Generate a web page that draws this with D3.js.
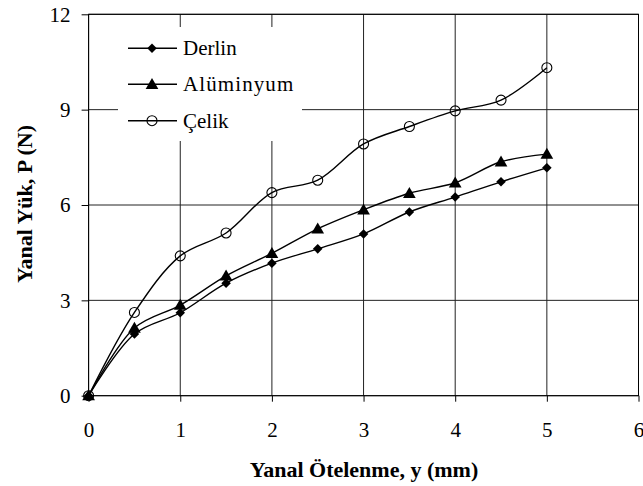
<!DOCTYPE html>
<html>
<head>
<meta charset="utf-8">
<script src="https://cdn.jsdelivr.net/npm/d3@7"></script>
</head>
<body style="margin:0;background:#fff">
<svg width="643" height="486" font-family="Liberation Serif"></svg>
<script>
const xValues = [0, 0.5, 1, 1.5, 2, 2.5, 3, 3.5, 4, 4.5, 5];
const derlin = [0, 1.94, 2.61, 3.54, 4.17, 4.62, 5.09, 5.78, 6.25, 6.73, 7.17];
const aluminyum = [0, 2.13, 2.85, 3.77, 4.48, 5.25, 5.85, 6.37, 6.70, 7.36, 7.60];
const celik = [0, 2.62, 4.40, 5.12, 6.39, 6.78, 7.92, 8.47, 8.96, 9.30, 10.32];
const seriesNames = ['Derlin', 'Alüminyum', 'Çelik'];
const xTicks = [0, 1, 2, 3, 4, 5, 6];
const yTicks = [0, 3, 6, 9, 12];

const FONT = 'Liberation Serif';
const svg = d3.select('svg');
const x = d3.scaleLinear().domain([0, 6]).range([88.6, 638.5]);
const y = d3.scaleLinear().domain([0, 12]).range([395.7, 14.3]);

// grid lines
svg.append('g').selectAll('line').data(yTicks).join('line')
  .attr('x1', x(0)).attr('x2', x(6))
  .attr('y1', d => y(d)).attr('y2', d => y(d))
  .attr('stroke', '#222').attr('stroke-width', 1);
svg.append('g').selectAll('line').data(xTicks).join('line')
  .attr('x1', d => x(d)).attr('x2', d => x(d))
  .attr('y1', y(0)).attr('y2', y(12))
  .attr('stroke', '#222').attr('stroke-width', 1);

// legend background (white, hides grid)
svg.append('rect').attr('x', 118).attr('y', 27).attr('width', 184).attr('height', 114).attr('fill', '#fff');

// plot border
svg.append('rect').attr('x', x(0)).attr('y', y(12))
  .attr('width', x(6) - x(0)).attr('height', y(0) - y(12))
  .attr('fill', 'none').attr('stroke', '#000').attr('stroke-width', 1);

// axes
const xAxis = svg.append('g').attr('transform', `translate(0,${y(0)})`)
  .call(d3.axisBottom(x).tickValues(xTicks).tickSize(6).tickPadding(20).tickFormat(d3.format('d')));
const yAxis = svg.append('g').attr('transform', `translate(${x(0)},0)`)
  .call(d3.axisLeft(y).tickValues(yTicks).tickSize(7).tickPadding(11).tickFormat(d3.format('d')));
[xAxis, yAxis].forEach(a => {
  a.attr('font-family', FONT).attr('font-size', 21);
  a.select('.domain').remove();
  a.selectAll('text').attr('font-family', FONT).attr('font-size', 21).attr('fill', '#000');
  a.selectAll('line').attr('stroke', '#000');
});

// axis titles
svg.append('text').attr('x', 364).attr('y', 477).attr('text-anchor', 'middle')
  .attr('font-family', FONT).attr('font-size', 22).attr('font-weight', 'bold')
  .text('Yanal Ötelenme, y (mm)');
svg.append('text').attr('transform', 'translate(32,204) rotate(-90)').attr('text-anchor', 'middle')
  .attr('font-family', FONT).attr('font-size', 22).attr('font-weight', 'bold')
  .text('Yanal Yük, P (N)');

const line = d3.line().x(d => x(d[0])).y(d => y(d[1])).curve(d3.curveCatmullRom.alpha(0.5));
const allSeries = [derlin, aluminyum, celik];

const diamond = d3.symbol().type(d3.symbolDiamond2).size(58);
const triangle = d3.symbol().type(d3.symbolTriangle).size(70);

function drawMarker(g, kind, cx, cy) {
  if (kind === 0) {
    g.append('path').attr('d', diamond()).attr('transform', `translate(${cx},${cy})`).attr('fill', '#000');
  } else if (kind === 1) {
    g.append('path').attr('d', triangle()).attr('transform', `translate(${cx},${cy + 1})`).attr('fill', '#000');
  } else {
    g.append('circle').attr('cx', cx).attr('cy', cy).attr('r', 5)
      .attr('fill', 'none').attr('stroke', '#000').attr('stroke-width', 1.1);
  }
}

allSeries.forEach((vals, i) => {
  const pts = xValues.map((v, j) => [v, vals[j]]);
  svg.append('path').datum(pts).attr('d', line)
    .attr('fill', 'none').attr('stroke', '#000').attr('stroke-width', 1.4);
  const g = svg.append('g');
  pts.forEach(p => drawMarker(g, i, x(p[0]), y(p[1])));
});

// legend
const legendY = [48.3, 84.3, 120.7];
seriesNames.forEach((name, i) => {
  const g = svg.append('g');
  g.append('line').attr('x1', 128).attr('x2', 177).attr('y1', legendY[i]).attr('y2', legendY[i])
    .attr('stroke', '#000').attr('stroke-width', 1.4);
  drawMarker(g, i, 152, legendY[i]);
  g.append('text').attr('x', 183).attr('y', legendY[i] + 7)
    .attr('font-family', FONT).attr('font-size', 21)
    .attr('letter-spacing', i === 1 ? 1.1 : 0).text(name);
});
</script>
</body>
</html>
